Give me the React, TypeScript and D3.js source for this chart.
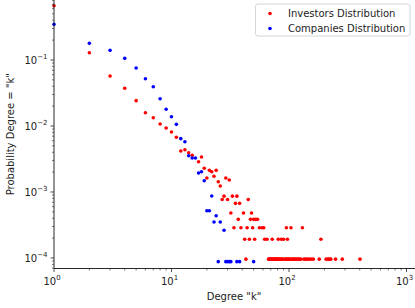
import React from 'react';
import * as d3 from 'd3';

const investorsK = [1, 2, 3, 4, 5, 6, 7, 8, 9, 10, 11, 12, 13, 14, 15, 17, 18, 19, 20, 21, 22, 23, 24, 25, 26, 27, 28, 29, 30, 31, 32, 33, 34, 35, 36, 37, 38, 39, 41, 42, 43, 44, 45, 46, 47, 48, 49, 50, 51, 52, 54, 56, 59, 61, 62, 65, 67, 68, 69, 70, 71, 72, 73, 74, 75, 76, 77, 78, 79, 80, 81, 82, 83, 85, 86, 87, 88, 90, 92, 94, 95, 96, 97, 98, 100, 102, 104, 106, 108, 111, 114, 117, 120, 123, 126, 130, 134, 138, 143, 148, 154, 161, 181, 187, 207, 215, 222, 227, 249, 284, 402];
const investorsP = [0.665, 0.129, 0.057, 0.0373, 0.0242, 0.0159, 0.01336, 0.0107, 0.00933, 0.0081, 0.00674, 0.00418, 0.00437, 0.00394, 0.0036, 0.00288, 0.00339, 0.00229, 0.00163, 0.00213, 0.00203, 0.00173, 0.00213, 0.00143, 0.00123, 0.00077, 0.000865, 0.00163, 0.00077, 0.00152, 0.00048, 0.000865, 0.000288, 0.000673, 0.000865, 0.000385, 0.000673, 0.000288, 0.00048, 0.000192, 0.000096, 0.000288, 0.00077, 0.000192, 0.000385, 0.00048, 0.000288, 0.000385, 0.000192, 0.000385, 0.000385, 0.000288, 0.000288, 0.000288, 0.000192, 0.000192, 0.000096, 0.000096, 0.000096, 0.000096, 0.000096, 0.000192, 0.000096, 0.000096, 0.000096, 0.000096, 0.000096, 0.000096, 0.000096, 0.000096, 0.000192, 0.000096, 0.000096, 0.000096, 0.000192, 0.000096, 0.000096, 0.000192, 0.000096, 0.000096, 0.000288, 0.000096, 0.000192, 0.000096, 0.000096, 0.000096, 0.000288, 0.000096, 0.000096, 0.000096, 0.000096, 0.000096, 0.000096, 0.000096, 0.000096, 0.000288, 0.000096, 0.000096, 0.000096, 0.000096, 0.000096, 0.000096, 0.000096, 0.000192, 0.000096, 0.000096, 0.000096, 0.000096, 0.000096, 0.000096, 0.000096];

const companiesK = [1, 2, 3, 4, 5, 6, 7, 8, 9, 10, 11, 12, 13, 14, 15, 16, 17, 18, 19, 20, 21, 22, 23, 24, 25, 26, 28, 29, 30, 31, 32, 36, 38, 50];
const companiesP = [0.347, 0.179, 0.14, 0.106, 0.0757, 0.0521, 0.0394, 0.0259, 0.0179, 0.01383, 0.0106, 0.00643, 0.00578, 0.00355, 0.00327, 0.00327, 0.00194, 0.00203, 0.00148, 0.00052, 0.00052, 0.00087, 0.000351, 0.000437, 0.000088, 0.000351, 0.000263, 0.000088, 0.000088, 0.000088, 0.000088, 0.000088, 0.000088, 0.000088];

const xTickExponents = [0, 1, 2, 3];
const yTickExponents = [-1, -2, -3, -4];
const legendLabels = ['Investors Distribution', 'Companies Distribution'];
const seriesColors = ['#ff0000', '#0000ff'];
const xLabel = 'Degree "k"';
const yLabel = 'Probability Degree = "k"';

const W = 415;
const H = 308;
const plotLeft = 54;
const plotRight = 415;
const plotTop = 0;
const plotBottom = 268.5;
const FONT = 'DejaVu Sans, sans-serif';

export default function App() {
  const x = d3.scaleLog().domain([1, 1000]).range([54, 406.5]);
  const y = d3.scaleLog().domain([1e-4, 1]).range([258, -6]);

  const xMinor: number[] = [];
  for (let e = 0; e <= 3; e++) {
    for (let m = 2; m <= 9; m++) {
      const v = m * Math.pow(10, e);
      const px = x(v);
      if (px <= plotRight) xMinor.push(v);
    }
  }
  const yMinor: number[] = [];
  for (let e = -5; e <= 0; e++) {
    for (let m = 2; m <= 9; m++) {
      const v = m * Math.pow(10, e);
      const py = y(v);
      if (py >= plotTop && py <= plotBottom) yMinor.push(v);
    }
  }

  const series = [
    { k: investorsK, p: investorsP, color: seriesColors[0] },
    { k: companiesK, p: companiesP, color: seriesColors[1] },
  ];

  const tickColor = '#222';
  const sup = (e: number) => (e < 0 ? '\u2212' + Math.abs(e) : String(e));

  return (
    <svg width={W} height={H} style={{ position: 'absolute', left: 0, top: 0, background: '#fff' }} fontFamily={FONT}>
      <rect x={0} y={0} width={W} height={H} fill="#fff" />
      <defs>
        <clipPath id="plotclip">
          <rect x={plotLeft - 3} y={plotTop} width={plotRight - plotLeft + 3} height={plotBottom - plotTop + 3} />
        </clipPath>
      </defs>
      <g clipPath="url(#plotclip)">
        {series.map((s, si) =>
          s.k.map((kv, i) => (
            <circle key={si + '-' + i} cx={x(kv)} cy={y(s.p[i])} r={1.8} fill={s.color} />
          ))
        )}
      </g>
      <line x1={plotLeft} x2={plotLeft} y1={plotTop} y2={plotBottom} stroke="#111" strokeWidth={0.9} />
      <line x1={plotLeft} x2={plotRight} y1={plotBottom} y2={plotBottom} stroke="#111" strokeWidth={0.9} />
      {xTickExponents.map((e) => {
        const px = x(Math.pow(10, e));
        return (
          <g key={'xt' + e}>
            <line x1={px} x2={px} y1={plotBottom} y2={plotBottom + 3.5} stroke={tickColor} strokeWidth={0.8} />
            <text x={px - 2} y={plotBottom + 16} fontSize={10} textAnchor="middle" fill="#222">
              10
              <tspan dy={-4.2} fontSize={7}>{sup(e)}</tspan>
            </text>
          </g>
        );
      })}
      {xMinor.map((v, i) => (
        <line key={'xm' + i} x1={x(v)} x2={x(v)} y1={plotBottom} y2={plotBottom + 2} stroke={tickColor} strokeWidth={0.6} />
      ))}
      {yTickExponents.map((e) => {
        const py = y(Math.pow(10, e));
        return (
          <g key={'yt' + e}>
            <line x1={plotLeft - 3.5} x2={plotLeft} y1={py} y2={py} stroke={tickColor} strokeWidth={0.8} />
            <text x={plotLeft - 6.5} y={py + 3.5} fontSize={10} textAnchor="end" fill="#222">
              10
              <tspan dy={-4.2} fontSize={7}>{sup(e)}</tspan>
            </text>
          </g>
        );
      })}
      {yMinor.map((v, i) => (
        <line key={'ym' + i} x1={plotLeft - 2} x2={plotLeft} y1={y(v)} y2={y(v)} stroke={tickColor} strokeWidth={0.6} />
      ))}
      <text x={234} y={300} fontSize={10} textAnchor="middle" fill="#222">{xLabel}</text>
      <text transform={`translate(14, ${(plotTop + plotBottom) / 2}) rotate(-90)`} fontSize={10} textAnchor="middle" fill="#222">
        {yLabel}
      </text>
      <g>
        <rect x={255.5} y={4} width={154.5} height={32} rx={2.5} ry={2.5} fill="#fff" fillOpacity={0.8} stroke="#cccccc" strokeWidth={0.8} />
        {legendLabels.map((lab, i) => (
          <g key={'lg' + i}>
            <circle cx={270} cy={13.5 + i * 15} r={1.8} fill={seriesColors[i]} />
            <text x={288} y={13.5 + i * 15 + 3.6} fontSize={10} fill="#222">{lab}</text>
          </g>
        ))}
      </g>
    </svg>
  );
}
